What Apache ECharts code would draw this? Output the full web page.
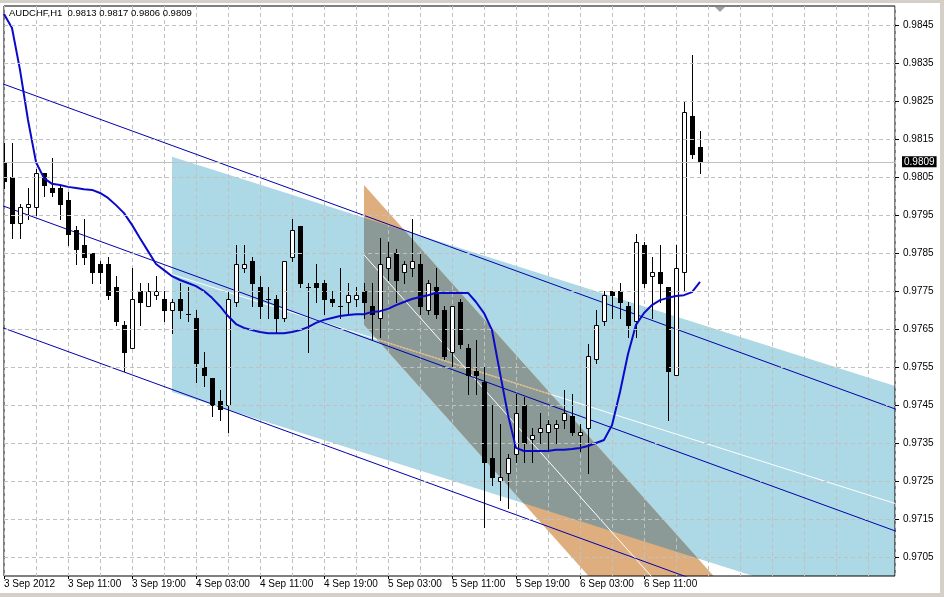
<!DOCTYPE html>
<html><head><meta charset="utf-8">
<script src="https://cdn.jsdelivr.net/npm/echarts@6/dist/echarts.min.js"></script>
<style>html,body{margin:0;padding:0;background:#fff}#c{width:944px;height:597px}</style>
</head><body><div id="c"></div>
<script>
// ---------- data ----------
const symbol = 'AUDCHF,H1';
const timeLabels = ['3 Sep 2012','3 Sep 11:00','3 Sep 19:00','4 Sep 03:00','4 Sep 11:00','4 Sep 19:00','5 Sep 03:00','5 Sep 11:00','5 Sep 19:00','6 Sep 03:00','6 Sep 11:00'];
const priceLabels = ['0.9705','0.9715','0.9725','0.9735','0.9745','0.9755','0.9765','0.9775','0.9785','0.9795','0.9805','0.9815','0.9825','0.9835','0.9845'];
const open  = [0.9809,0.9805,0.9793,0.9797,0.9797,0.9806,0.9802,0.9802,0.9799,0.9791,0.9787,0.9785,0.9782,0.9782,0.9776,0.9766,0.9760,0.9775,0.9771,0.9774,0.9773,0.9770,0.9773,0.9769,0.9768,0.9755,0.9752,0.9746,0.9745,0.9772,0.9781,0.9783,0.9776,0.9773,0.9773,0.9768,0.9784,0.9792,0.9776,0.9777,0.9777,0.9773,0.9771,0.9772,0.9773,0.9775,0.9771,0.9768,0.9781,0.9785,0.9780,0.9781,0.9782,0.9770,0.9776,0.9770,0.9759,0.9772,0.9760,0.9754,0.9751,0.9731,0.9725,0.9727,0.9732,0.9745,0.9736,0.9738,0.9738,0.9739,0.9741,0.9742,0.9737,0.9739,0.9757,0.9767,0.9775,0.9775,0.9771,0.9767,0.9787,0.9779,0.9780,0.9776,0.9753,0.9780,0.9821,0.9813];
const high  = [0.9814,0.9814,0.9798,0.9802,0.9807,0.9806,0.9810,0.9803,0.9801,0.9792,0.9794,0.9785,0.9783,0.9784,0.9779,0.9767,0.9781,0.9777,0.9777,0.9779,0.9775,0.9773,0.9777,0.9776,0.9770,0.9759,0.9752,0.9749,0.9775,0.9787,0.9787,0.9784,0.9779,0.9776,0.9774,0.9783,0.9794,0.9792,0.9777,0.9782,0.9778,0.9775,0.9781,0.9777,0.9776,0.9777,0.9777,0.9789,0.9788,0.9786,0.9783,0.9794,0.9785,0.9778,0.9781,0.9771,0.9771,0.9773,0.9761,0.9762,0.9755,0.9745,0.9740,0.9732,0.9748,0.9747,0.9739,0.9743,0.9741,0.9741,0.9749,0.9748,0.9740,0.9761,0.9770,0.9775,0.9775,0.9777,0.9772,0.9790,0.9788,0.9784,0.9787,0.9776,0.9787,0.9825,0.9837,0.9817];
const low   = [0.9802,0.9789,0.9789,0.9794,0.9795,0.9800,0.9800,0.9794,0.9787,0.9782,0.9782,0.9777,0.9777,0.9773,0.9766,0.9754,0.9760,0.9766,0.9771,0.9773,0.9767,0.9764,0.9768,0.9767,0.9751,0.9750,0.9742,0.9741,0.9738,0.9771,0.9780,0.9771,0.9768,0.9768,0.9764,0.9767,0.9783,0.9776,0.9759,0.9772,0.9769,0.9771,0.9768,0.9769,0.9771,0.9768,0.9762,0.9763,0.9778,0.9772,0.9777,0.9779,0.9769,0.9769,0.9768,0.9757,0.9755,0.9760,0.9748,0.9748,0.9713,0.9724,0.9720,0.9718,0.9730,0.9730,0.9730,0.9735,0.9733,0.9735,0.9739,0.9737,0.9733,0.9727,0.9756,0.9766,0.9768,0.9768,0.9763,0.9763,0.9776,0.9768,0.9772,0.9741,0.9753,0.9775,0.9810,0.9806];
const close = [0.9804,0.9793,0.9797,0.9798,0.9806,0.9803,0.9801,0.9798,0.9790,0.9786,0.9784,0.9780,0.9780,0.9774,0.9767,0.9759,0.9773,0.9772,0.9775,0.9775,0.9770,0.9772,0.9770,0.9769,0.9756,0.9753,0.9745,0.9744,0.9773,0.9782,0.9782,0.9777,0.9771,0.9773,0.9768,0.9783,0.9791,0.9777,0.9776,0.9776,0.9773,0.9772,0.9771,0.9774,0.9774,0.9772,0.9769,0.9782,0.9784,0.9778,0.9782,0.9783,0.9771,0.9777,0.9769,0.9758,0.9771,0.9761,0.9753,0.9753,0.9730,0.9726,0.9726,0.9731,0.9743,0.9735,0.9737,0.9739,0.9740,0.9740,0.9743,0.9738,0.9738,0.9758,0.9766,0.9774,0.9774,0.9772,0.9766,0.9788,0.9777,0.9780,0.9777,0.9754,0.9781,0.9822,0.9811,0.9809];
const maLine = [0.98479,0.98442,0.98332,0.98200,0.98089,0.98047,0.98032,0.98029,0.98024,0.98021,0.98018,0.98016,0.98008,0.97995,0.97976,0.97955,0.97924,0.97889,0.97855,0.97821,0.97805,0.97789,0.97779,0.97771,0.97763,0.97750,0.97732,0.97710,0.97684,0.97663,0.97653,0.97647,0.97642,0.97639,0.97639,0.97639,0.97642,0.97647,0.97655,0.97666,0.97674,0.97679,0.97684,0.97687,0.97689,0.97689,0.97695,0.97697,0.97703,0.97713,0.97721,0.97729,0.97734,0.97739,0.97745,0.97745,0.97745,0.97745,0.97745,0.97721,0.97692,0.97647,0.97534,0.97424,0.97337,0.97329,0.97329,0.97329,0.97329,0.97332,0.97332,0.97334,0.97337,0.97342,0.97350,0.97358,0.97397,0.97484,0.97584,0.97661,0.97692,0.97713,0.97726,0.97732,0.97737,0.97739,0.97747,0.97774];
// channel anchors: [bar, price]
const upperLine  = [[0, 0.98294], [100, 0.97527]];
const middleLine = [[0, 0.97973], [100, 0.97206]];
const lowerLine  = [[0, 0.97652], [100, 0.96885]];
// filled channels: [bar, top, bottom]
const regChanStart   = [21, 0.98103, 0.97484];
const regChanEnd     = [111.375, 0.97500, 0.96882];
const steepChanStart = [45, 0.98029, 0.97661];
const steepChanEnd   = [111.375, 0.96466, 0.96098];

// ---------- helpers ----------
const FONT = 'Liberation Sans';
const X_MIN = 0, X_MAX = 111.375;
const f4 = v => v.toFixed(4);
function extendLine(a) {
  const [[b0,p0],[b1,p1]] = a;
  const at = b => p0 + (p1-p0)*(b-b0)/(b1-b0);
  return [[X_MIN - 1, at(X_MIN - 1)], [X_MAX + 1, at(X_MAX + 1)]];
}
function chanPoly(s, e) { return [[s[0], s[1]], [e[0], e[1]], [e[0], e[2]], [s[0], s[2]]]; }
function cross(A, B, P) { return (B[0]-A[0])*(P[1]-A[1]) - (B[1]-A[1])*(P[0]-A[0]); }
function orient(poly) { let a = 0; for (let i = 0; i < poly.length; i++) { const p = poly[i], q = poly[(i+1)%poly.length]; a += p[0]*q[1]-q[0]*p[1]; } return Math.sign(a); }
function clipPoly(subject, clip) {
  const s = orient(clip); let out = subject;
  for (let i = 0; i < clip.length; i++) {
    const A = clip[i], B = clip[(i+1)%clip.length];
    const f = P => s*cross(A, B, P);
    const inp = out; out = [];
    for (let j = 0; j < inp.length; j++) {
      const P = inp[j], Q = inp[(j+1)%inp.length];
      const fp = f(P), fq = f(Q);
      const X = () => { const t = fp/(fp-fq); return [P[0]+t*(Q[0]-P[0]), P[1]+t*(Q[1]-P[1])]; };
      if (fp >= 0) { out.push(P); if (fq < 0) out.push(X()); }
      else if (fq >= 0) out.push(X());
    }
  }
  return out;
}
function clipSeg(P0, P1, clip) {
  const s = orient(clip); let t0 = 0, t1 = 1;
  for (let i = 0; i < clip.length; i++) {
    const A = clip[i], B = clip[(i+1)%clip.length];
    const f0 = s*cross(A, B, P0), f1 = s*cross(A, B, P1);
    if (f0 < 0 && f1 < 0) return null;
    if (f0 < 0) t0 = Math.max(t0, f0/(f0-f1));
    if (f1 < 0) t1 = Math.min(t1, f0/(f0-f1));
  }
  if (t0 >= t1) return null;
  const P = t => [P0[0]+t*(P1[0]-P0[0]), P0[1]+t*(P1[1]-P0[1])];
  return [P(t0), P(t1)];
}
const regPoly = chanPoly(regChanStart, regChanEnd);
const steepPoly = chanPoly(steepChanStart, steepChanEnd);
const overlapPoly = clipPoly(steepPoly, regPoly);
const regMid = [[regChanStart[0], (regChanStart[1]+regChanStart[2])/2], [regChanEnd[0], (regChanEnd[1]+regChanEnd[2])/2]];
const steepMid = [[steepChanStart[0], (steepChanStart[1]+steepChanStart[2])/2], [steepChanEnd[0], (steepChanEnd[1]+steepChanEnd[2])/2]];
const regMidInSteep = clipSeg(regMid[0], regMid[1], steepPoly) || [];

function polySeries(poly, color, z) {
  return { type: 'custom', z: z, clip: true, silent: true, xAxisIndex: 0, yAxisIndex: 0,
    data: [[0, 0]],
    renderItem: (params, api) => ({ type: 'polygon', shape: { points: poly.map(p => api.coord(p)) }, style: { fill: color } }) };
}
function lineSeries(pts, color, width, z) {
  return { type: 'line', data: pts, z: z, silent: true, symbol: 'none', showSymbol: false, clip: true,
    xAxisIndex: 0, yAxisIndex: 0, lineStyle: { color: color, width: width }, animation: false };
}

const ohlc = open.map((o, i) => [i, o, high[i], low[i], close[i]]);
const maData = maLine.map((v, i) => [i, v]);
const last = open.length - 1;
const lastClose = close[last];

// horizontal grid lines at the labelled prices (drawn through the y scale)
const hGrid = { type: 'line', data: [], z: 0, silent: true, symbol: 'none', xAxisIndex: 0, yAxisIndex: 0,
  markLine: { silent: true, symbol: 'none', animation: false, label: { show: false },
    lineStyle: { color: '#c0c0c0', type: [4, 3], width: 1 },
    data: priceLabels.map(p => [{ coord: [X_MIN, +p] }, { coord: [X_MAX, +p] }]) } };

const hiddenAxis = { axisLine: { show: false }, axisTick: { show: false }, axisLabel: { show: false }, splitLine: { show: false }, splitArea: { show: false } };

const chart = echarts.init(document.getElementById('c'), null, { renderer: 'canvas' });
chart.setOption({
  animation: false,
  backgroundColor: '#fff',
  title: { text: symbol + '  ' + [open[last], high[last], low[last], close[last]].map(f4).join(' '),
    left: 9, top: 8, padding: 0,
    textStyle: { fontSize: 9.5, fontWeight: 'normal', color: '#000', fontFamily: FONT } },
  grid: [
    { left: 4, right: 49, top: 6, bottom: 21, show: true, borderColor: '#000', borderWidth: 1, backgroundColor: 'transparent' },
    { left: 4, width: 640, top: 6, bottom: 21, show: false }
  ],
  xAxis: [
    { gridIndex: 0, type: 'value', min: X_MIN, max: X_MAX, interval: 4,
      axisLine: { show: false }, axisTick: { show: false }, axisLabel: { show: false },
      splitLine: { show: true, lineStyle: { color: '#c0c0c0', type: [4, 3], width: 1 } } },
    { gridIndex: 1, type: 'value', min: 0, max: (timeLabels.length - 1) * 8, interval: 8, position: 'bottom',
      axisLine: { show: false }, axisTick: { show: true, length: 3, lineStyle: { color: '#000' } },
      splitLine: { show: false },
      axisLabel: { show: true, align: 'left', margin: 3, color: '#000', fontSize: 10, fontFamily: FONT,
        formatter: v => timeLabels[Math.round(v / 8)] || '' } }
  ],
  yAxis: [
    Object.assign({ gridIndex: 0, type: 'value', min: 0.9700, max: 0.9850, interval: 0.0005, position: 'left' }, hiddenAxis),
    { gridIndex: 0, type: 'category', data: priceLabels, position: 'right', boundaryGap: true,
      axisLine: { show: false }, axisTick: { show: true, alignWithLabel: true, length: 4, lineStyle: { color: '#000' } },
      splitLine: { show: false }, splitArea: { show: false },
      axisLabel: { margin: 8, color: '#000', fontSize: 10, fontFamily: FONT } },
    Object.assign({ gridIndex: 1, type: 'value', min: 0.9700, max: 0.9850, interval: 0.0005 }, hiddenAxis)
  ],
  graphic: [
    { type: 'rect', shape: { x: 0, y: 0, width: 944, height: 3 }, style: { fill: '#d4d0c8' }, z: 10 },
    { type: 'rect', shape: { x: 940, y: 0, width: 4, height: 597 }, style: { fill: '#d4d0c8' }, z: 10 },
    { type: 'rect', shape: { x: 0, y: 593, width: 944, height: 4 }, style: { fill: '#d4d0c8' }, z: 10 },
    { type: 'polygon', shape: { points: [[715, 7], [725, 7], [720, 12]] }, style: { fill: '#a0a0a0' }, z: 10 }
  ],
  series: [
    polySeries(regPoly, '#add8e6', -3),
    polySeries(steepPoly, '#dfae7e', -3),
    polySeries(overlapPoly, '#8b9a96', -3),
    hGrid,
    lineSeries(regMid, '#ffffff', 1, 1),
    lineSeries(regMidInSteep, '#d9a86c', 1, 1),
    lineSeries(steepMid, '#ffffff', 1, 1),
    lineSeries(extendLine(upperLine), '#0000aa', 1, 1),
    lineSeries(extendLine(middleLine), '#0000aa', 1, 1),
    lineSeries(extendLine(lowerLine), '#0000aa', 1, 1),
    { type: 'custom', z: 3, clip: true, silent: true, xAxisIndex: 0, yAxisIndex: 0,
      data: ohlc, encode: { x: 0, y: [1, 2, 3, 4] },
      renderItem: (params, api) => {
        const i = api.value(0), o = api.value(1), h = api.value(2), l = api.value(3), c = api.value(4);
        const pO = api.coord([i, o]), pC = api.coord([i, c]), pH = api.coord([i, h]), pL = api.coord([i, l]);
        const cx = Math.round(pO[0]);
        const yT = Math.round(Math.min(pO[1], pC[1])), yB = Math.round(Math.max(pO[1], pC[1]));
        const yH = Math.round(pH[1]), yL = Math.round(pL[1]);
        const kids = [{ type: 'line', shape: { x1: cx + 0.5, y1: yH, x2: cx + 0.5, y2: yL + 1 }, style: { stroke: '#000', lineWidth: 1 } }];
        if (c > o) kids.push({ type: 'rect', shape: { x: cx - 2 + 0.5, y: yT + 0.5, width: 4, height: Math.max(yB - yT, 1) }, style: { fill: '#fff', stroke: '#000', lineWidth: 1 } });
        else kids.push({ type: 'rect', shape: { x: cx - 2, y: yT, width: 5, height: Math.max(yB - yT, 0) + 1 }, style: { fill: '#000' } });
        return { type: 'group', children: kids };
      } },
    { type: 'line', data: maData, z: 4, silent: true, symbol: 'none', showSymbol: false, clip: true,
      xAxisIndex: 0, yAxisIndex: 0, lineStyle: { color: '#0a0ac8', width: 2 },
      markLine: { silent: true, symbol: 'none', animation: false,
        lineStyle: { color: '#c0c0c0', type: 'solid', width: 1 },
        label: { show: true, position: 'end', distance: 7, formatter: () => f4(lastClose),
          color: '#fff', backgroundColor: '#000', padding: [1, 2, 0, 2], fontSize: 10, fontFamily: FONT },
        data: [[{ coord: [X_MIN, lastClose] }, { coord: [X_MAX, lastClose] }]] } }
  ]
});
</script></body></html>
